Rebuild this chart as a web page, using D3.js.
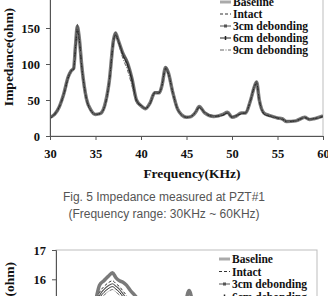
<!DOCTYPE html>
<html>
<head>
<meta charset="utf-8">
<script src="https://cdn.jsdelivr.net/npm/d3@7"></script>
<style>
  body { margin: 0; background: #fff; }
  svg { display: block; }
</style>
</head>
<body>
<div id="chart"></div>
<script>
// Fig. 5 (top) - impedance at PZT#1, 30-60 KHz
const freq = [30,30.5,31,31.5,32,32.3,32.6,32.8,33,33.2,33.5,34,34.5,35,35.5,36,36.5,37,37.2,37.5,38,38.5,39,39.5,40,40.5,41,41.5,42,42.3,42.7,43,43.5,44,44.5,45,45.5,46,46.4,47,48,48.5,49,49.5,50,50.5,51,51.5,52,52.5,52.7,53,53.5,54,54.5,55,55.5,56,57,58,58.5,59,60];
const baseline = [26,30,40,58,82,90,94,125,152,138,96,52,36,30,31,42,75,135,143,133,115,102,80,50,42,38,46,60,60,70,95,88,60,38,29,26,27,33,41,32,27,28,30,33,26,28,32,32,48,70,75,50,32,29,27,25,24,20,21,26,23,24,28];
const intact   = [25,29,39,56,80,89,92,120,146,134,94,51,35,30,31,41,73,132,140,131,112,98,77,48,41,38,45,59,60,69,93,86,59,37,29,26,27,33,40,32,27,27,29,32,26,28,31,32,47,69,74,49,31,28,26,25,23,20,21,25,23,24,27];
const cm3      = [26,31,41,59,84,91,95,128,155,140,97,53,36,30,31,42,76,136,144,134,116,104,82,51,43,39,46,61,61,71,96,89,61,38,29,26,27,34,41,33,28,28,30,33,27,29,32,33,49,71,76,51,32,29,27,25,24,21,21,26,24,24,28];
const cm6      = [25,30,40,57,81,90,93,122,148,136,95,52,35,30,31,41,74,133,141,132,113,100,78,49,42,38,45,60,60,70,94,87,60,38,29,26,27,33,40,32,27,28,29,32,26,28,31,32,48,70,74,50,31,28,27,25,24,20,21,26,23,24,27];
const cm9      = [26,30,40,57,82,90,93,124,150,137,95,52,36,30,31,42,74,134,142,130,108,92,70,47,41,38,45,60,61,70,95,88,60,38,29,26,27,33,41,32,27,28,30,33,26,28,32,32,48,70,75,50,32,29,27,25,24,20,21,26,23,24,28];

// Fig. 6 (bottom, cut off) - only the top of it is visible
const freqB = [33,34,34.5,35,35.5,36,36.5,36.9,37.3,37.7,38.1,38.6,39.2,40,41,42,43,44,44.8,45.3,45.8,46.5,48,50,55,60];
const baselineB = [14.2,14.7,15.2,15.8,15.95,16.1,16.22,16.05,15.95,15.9,15.8,15.6,15.4,15.0,14.7,14.6,14.6,14.7,15.1,15.62,15.1,14.8,14.6,14.5,14.4,14.3];
const intactB   = [14.1,14.6,15.1,15.55,15.75,15.88,15.95,15.85,15.75,15.6,15.45,15.2,15.0,14.7,14.5,14.4,14.45,14.6,14.9,15.3,14.9,14.7,14.5,14.4,14.3,14.2];
const cm3B      = [14.1,14.5,15.0,15.45,15.65,15.78,15.85,15.76,15.66,15.5,15.35,15.1,14.9,14.6,14.45,14.35,14.4,14.55,14.85,15.2,14.85,14.65,14.45,14.35,14.25,14.15];
const cm6B      = [14.0,14.45,14.9,15.35,15.55,15.68,15.75,15.66,15.56,15.4,15.25,15.0,14.8,14.55,14.4,14.3,14.35,14.5,14.8,15.1,14.8,14.6,14.4,14.3,14.2,14.1];
const cm9B      = [14.0,14.4,14.85,15.25,15.45,15.58,15.65,15.56,15.46,15.3,15.15,14.9,14.7,14.5,14.35,14.25,14.3,14.45,14.75,15.0,14.75,14.55,14.35,14.25,14.15,14.05];

const seriesNames = ["Baseline", "Intact", "3cm debonding", "6cm debonding", "9cm debonding"];
const xTicks = [30,35,40,45,50,55,60];
const yTicks = [0,50,100,150];
const yTicksB = [16,17];

const width = 328, height = 296;
const serif = "'Liberation Serif', 'Times New Roman', serif";

const svg = d3.select("#chart").append("svg")
  .attr("width", width).attr("height", height)
  .attr("viewBox", [0, 0, width, height]);

// line styles per series
const styles = [
  {stroke: "#7a7a7a", width: 3.5, dash: null, marker: null},
  {stroke: "#333", width: 1, dash: "3,2", marker: null},
  {stroke: "#555", width: 1.1, dash: null, marker: "rect"},
  {stroke: "#222", width: 1, dash: null, marker: "tick"},
  {stroke: "#666", width: 1, dash: "4,1.5,1,1.5", marker: null}
];

function drawChart(opts) {
  const {x0, x1, yTop, yBottom, domainY, freqs, series, legendX, legendY, legendStep, id} = opts;
  const x = d3.scaleLinear().domain([30, 60]).range([x0, x1]);
  const y = d3.scaleLinear().domain(domainY).range([yBottom, yTop]);
  const g = svg.append("g");

  // plot frame
  g.append("rect")
    .attr("x", x0).attr("y", yTop)
    .attr("width", x1 - x0).attr("height", yBottom - yTop)
    .attr("fill", "none").attr("stroke", "#bdbdbd").attr("stroke-width", 1);

  g.append("clipPath").attr("id", id)
    .append("rect").attr("x", x0).attr("y", yTop)
    .attr("width", x1 - x0).attr("height", yBottom - yTop);

  const line = d3.line()
    .x((d, i) => x(freqs[i]))
    .y(d => y(d))
    .curve(d3.curveMonotoneX);

  const curves = g.append("g").attr("clip-path", `url(#${id})`);
  series.forEach((vals, k) => {
    const s = styles[k];
    curves.append("path")
      .attr("d", line(vals))
      .attr("fill", "none")
      .attr("stroke", s.stroke)
      .attr("stroke-width", s.width)
      .attr("stroke-dasharray", s.dash)
      .attr("stroke-linejoin", "round");
  });

  // legend
  const leg = g.append("g");
  seriesNames.forEach((name, k) => {
    const s = styles[k];
    const ly = legendY + k * legendStep;
    leg.append("line")
      .attr("x1", legendX).attr("x2", legendX + 11)
      .attr("y1", ly).attr("y2", ly)
      .attr("stroke", k === 0 ? "#aaa" : s.stroke).attr("stroke-width", s.width > 2 ? 3 : 1)
      .attr("stroke-dasharray", s.dash);
    if (s.marker === "rect") {
      leg.append("rect").attr("x", legendX + 4).attr("y", ly - 1.5)
        .attr("width", 3).attr("height", 3).attr("fill", s.stroke);
    } else if (s.marker === "tick") {
      leg.append("line").attr("x1", legendX + 5.5).attr("x2", legendX + 5.5)
        .attr("y1", ly - 2).attr("y2", ly + 2)
        .attr("stroke", s.stroke).attr("stroke-width", 1.5);
    }
    leg.append("text")
      .attr("x", legendX + 13).attr("y", ly + 4)
      .attr("font-family", serif).attr("font-weight", "bold")
      .attr("font-size", 11.5).attr("fill", "#111")
      .text(name);
  });

  return {x, y, g};
}

function styleAxis(a) {
  a.select(".domain").attr("stroke", "#555");
  a.selectAll(".tick line").attr("stroke", "#555");
  a.selectAll("text").attr("font-family", serif)
    .attr("font-weight", "bold").attr("font-size", 12.5).attr("fill", "#111");
}

// ---- top chart ----
const topChart = drawChart({
  x0: 50, x1: 323, yTop: -8, yBottom: 136,
  domainY: [0, 200], freqs: freq,
  series: [baseline, intact, cm3, cm6, cm9],
  legendX: 220, legendY: 2, legendStep: 12, id: "clipTop"
});

topChart.g.append("g")
  .attr("transform", "translate(0,136)")
  .call(d3.axisBottom(topChart.x).tickValues(xTicks).tickSize(4).tickPadding(9))
  .call(styleAxis);

topChart.g.append("g")
  .attr("transform", "translate(50,0)")
  .call(d3.axisLeft(topChart.y).tickValues(yTicks).tickSize(4).tickPadding(6))
  .call(styleAxis);

svg.append("text")
  .attr("transform", "translate(13,57) rotate(-90)")
  .attr("text-anchor", "middle")
  .attr("font-family", serif).attr("font-weight", "bold").attr("font-size", 13.5)
  .attr("fill", "#111")
  .text("Impedance(ohm)");

svg.append("text")
  .attr("x", 192).attr("y", 178)
  .attr("text-anchor", "middle")
  .attr("font-family", serif).attr("font-weight", "bold").attr("font-size", 13.5)
  .attr("fill", "#111")
  .text("Frequency(KHz)");

// caption
const caption = ["Fig. 5 Impedance measured at PZT#1", "(Frequency range: 30KHz ~ 60KHz)"];
caption.forEach((t, i) => {
  svg.append("text")
    .attr("x", 164).attr("y", 201 + i * 16.5)
    .attr("text-anchor", "middle")
    .attr("font-family", "'Liberation Sans', Arial, sans-serif")
    .attr("font-size", 12).attr("fill", "#555")
    .text(t);
});

// ---- bottom chart (cut off by the page) ----
const botChart = drawChart({
  x0: 56, x1: 317, yTop: 250, yBottom: 396.5,
  domainY: [12, 17], freqs: freqB,
  series: [baselineB, intactB, cm3B, cm6B, cm9B],
  legendX: 219, legendY: 259, legendStep: 12.5, id: "clipBot"
});

botChart.g.append("g")
  .attr("transform", "translate(56,0)")
  .call(d3.axisLeft(botChart.y).tickValues(yTicksB).tickFormat(d3.format("d")).tickSize(4).tickPadding(6))
  .call(styleAxis);

svg.append("text")
  .attr("transform", "translate(14,262) rotate(-90)")
  .attr("text-anchor", "end")
  .attr("font-family", serif).attr("font-weight", "bold").attr("font-size", 13.5)
  .attr("fill", "#111")
  .text("Impedance(ohm)");
</script>
</body>
</html>
